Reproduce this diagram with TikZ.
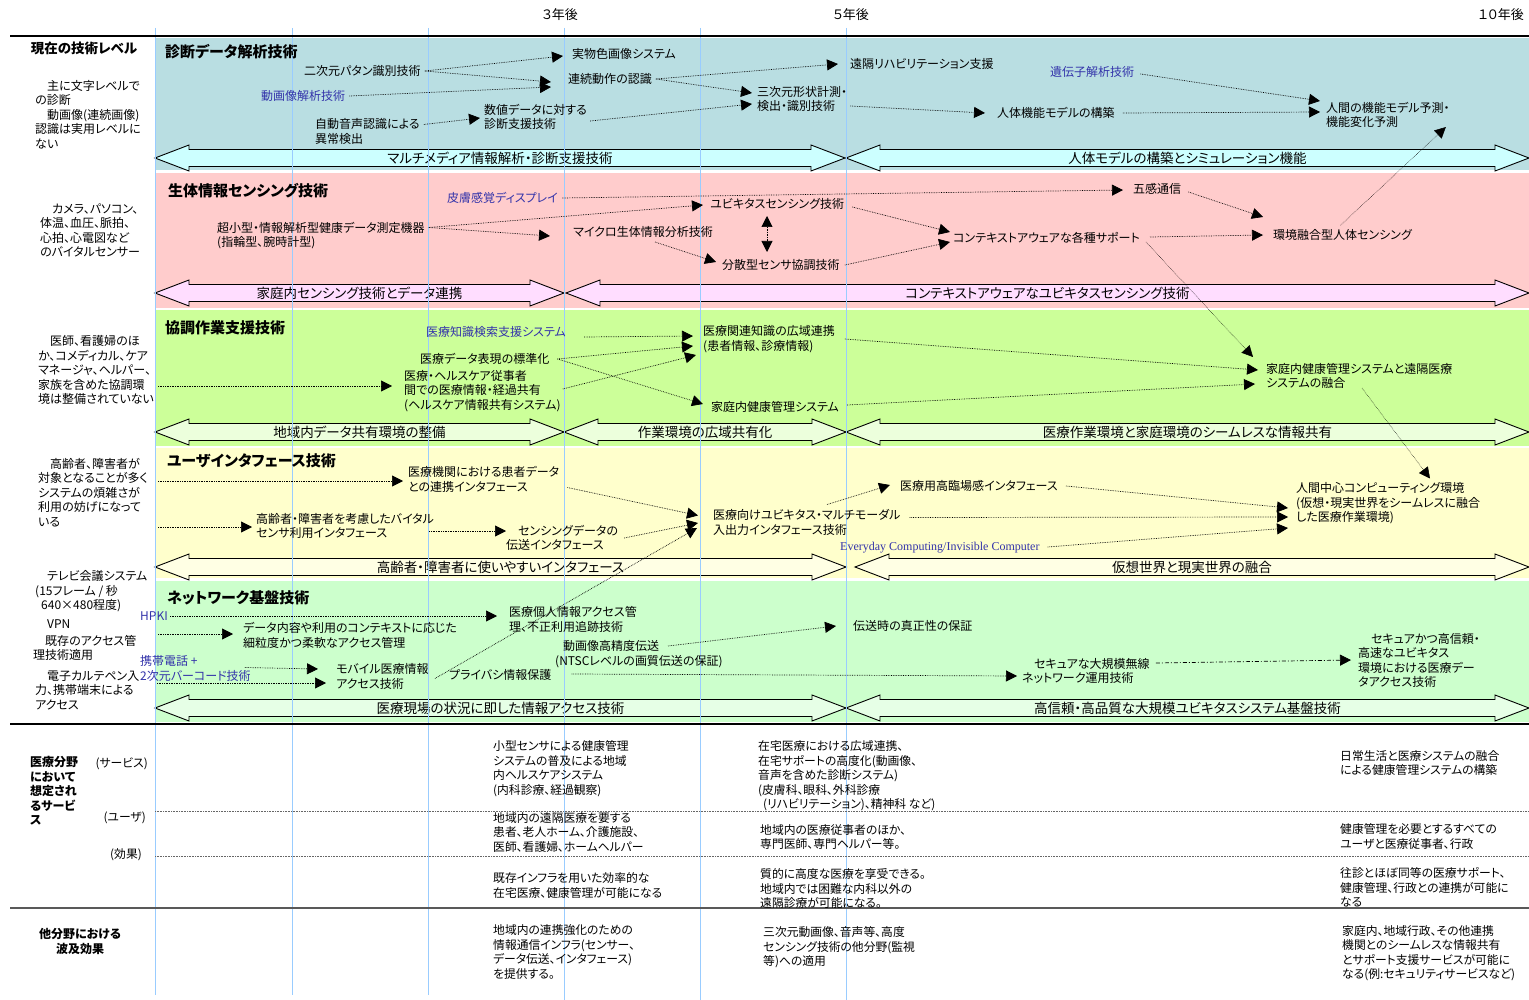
\documentclass[tikz,border=0pt]{standalone}
\usepackage{fontspec}
\setmainfont{Noto Sans CJK JP}[RawFeature=+palt]
\newfontfamily\enserif{Liberation Serif}
\usetikzlibrary{arrows.meta,calc}
\definecolor{bgA}{RGB}{185,222,226}
\definecolor{bgB}{RGB}{255,204,204}
\definecolor{bgC}{RGB}{204,255,153}
\definecolor{bgD}{RGB}{255,255,204}
\definecolor{bgE}{RGB}{204,255,204}
\definecolor{arA}{RGB}{204,255,255}
\definecolor{arB}{RGB}{255,221,255}
\definecolor{arC}{RGB}{236,255,220}
\definecolor{arD}{RGB}{255,255,228}
\definecolor{arE}{RGB}{230,255,230}
\definecolor{vl}{RGB}{153,204,255}
\definecolor{tblue}{RGB}{51,51,170}
\tikzset{
  txt/.style={font=\fontsize{12}{14.5}\selectfont, inner sep=0pt, anchor=west, align=left},
  txtb/.style={txt, text=tblue},
  ttl/.style={font=\fontsize{15}{17}\selectfont\bfseries, inner sep=0pt, anchor=west},
  lft/.style={font=\fontsize{12}{14.5}\selectfont, inner sep=0pt, anchor=west, align=left},
  btm/.style={font=\fontsize{11.8}{14.5}\selectfont, inner sep=0pt, anchor=west, align=left},
  blbl/.style={font=\fontsize{13.5}{15}\selectfont, inner sep=0pt},
  hdr/.style={font=\fontsize{13}{15}\selectfont, inner sep=0pt},
  vline/.style={draw=vl, line width=0.8pt},
  con/.style={densely dotted, line width=0.7pt, -{Triangle[length=11pt,width=11pt]}},
  confine/.style={densely dotted, line width=0.5pt, -{Triangle[length=11pt,width=11pt]}},
  con2/.style={densely dotted, line width=0.7pt, {Triangle[length=11pt,width=11pt]}-{Triangle[length=11pt,width=11pt]}},
  condd/.style={dash pattern=on 4pt off 2pt on 1pt off 2pt, line width=0.7pt, -{Triangle[length=11pt,width=11pt]}},
}
\newcommand\BandArrow[6]{%
  \filldraw[fill=#5, draw=black, line width=0.9pt] (#2,#4) -- (#2+34,#4-13) -- (#2+34,#4-8.5) -- (#3-34,#4-8.5) -- (#3-34,#4-13) -- (#3,#4) -- (#3-34,#4+13) -- (#3-34,#4+8.5) -- (#2+34,#4+8.5) -- (#2+34,#4+13) -- cycle;
  \node[blbl] (#1) at ({(#2+#3)/2},#4) {#6};}
\begin{document}
\begin{tikzpicture}[x=1pt,y=-1pt]
\useasboundingbox (0,0) rectangle (1529,1000);
\fill[white] (0,0) rectangle (1529,1000);
% bands
\fill[bgA] (155,38) rectangle (1529,170);
\fill[bgB] (155,173) rectangle (1529,308);
\fill[bgC] (155,310) rectangle (1529,446);
\fill[bgD] (155,448) rectangle (1529,578);
\fill[bgE] (155,581) rectangle (1529,722);
% big arrows
\BandArrow{ba1}{155}{845}{158}{arA}{マルチメディア情報解析・診断支援技術}
\BandArrow{ba2}{846}{1529}{158}{arA}{人体モデルの構築とシミュレーション機能}
\BandArrow{bb1}{155}{564}{293}{arB}{家庭内センシング技術とデータ連携}
\BandArrow{bb2}{566}{1529}{293}{arB}{コンテキストアウェアなユビキタスセンシング技術}
\BandArrow{bc1}{155}{564}{432}{arC}{地域内データ共有環境の整備}
\BandArrow{bc2}{564}{846}{432}{arC}{作業環境の広域共有化}
\BandArrow{bc3}{846}{1529}{432}{arC}{医療作業環境と家庭環境のシームレスな情報共有}
\BandArrow{bd1}{155}{846}{567}{arD}{高齢者・障害者に使いやすいインタフェース}
\BandArrow{bd2}{855}{1529}{567}{arD}{仮想世界と現実世界の融合}
\BandArrow{be1}{155}{846}{708}{arE}{医療現場の状況に即した情報アクセス技術}
\BandArrow{be2}{846}{1529}{708}{arE}{高信頼・高品質な大規模ユビキタスシステム基盤技術}
% vertical guide lines
\foreach \x/\yb in {155/995,292/995,428/995,564/1000,700/1000,846/1000}
  \draw[vline] (\x,28) -- (\x,\yb);
% horizontal rules
\draw[line width=1.2pt] (10,36) -- (1529,36);
\draw[line width=2pt] (10,724) -- (1529,724);
\draw[line width=2pt, draw=black!65] (10,908) -- (1529,908);
\draw[densely dotted, draw=black!60, line width=0.6pt] (155,811) -- (1529,811);
\draw[densely dotted, draw=black!60, line width=0.6pt] (155,856) -- (1529,856);
% header
\node[hdr] (h3) at (560,15) {３年後};
\node[hdr] (h5) at (851,15) {５年後};
\node[hdr] (h10) at (1501,15) {１０年後};
% left column
\node[font=\fontsize{13.5}{15}\selectfont\bfseries, inner sep=0pt] (L0) at (84,48) {現在の技術レベル};
\node[lft] (L1) at (35,114.5) {\hspace{12pt}主に文字レベルで\\の診断\\\hspace{12pt}動画像(連続画像)\\認識は実用レベルに\\ない};
\node[lft] (L2) at (40,230.5) {\hspace{12pt}カメラ、パソコン、\\体温、血圧、脈拍、\\心拍、心電図など\\のバイタルセンサー};
\node[lft] (L3) at (38,370) {\hspace{12pt}医師、看護婦のほ\\か、コメディカル、ケア\\マネージャ、ヘルパー、\\家族を含めた協調環\\境は整備されていない};
\node[lft] (L4) at (38,492.5) {\hspace{12pt}高齢者、障害者が\\対象となることが多く\\システムの煩雑さが\\利用の妨げになって\\いる};
\node[lft] (L5a) at (35,591.5) {\hspace{12pt}テレビ会議システム\\(15フレーム / 秒\\\hspace{6pt}640×480程度)};
\node[lft] (L5b) at (35,624) {\hspace{12pt}VPN};
\node[lft] (L5c) at (33,648) {\hspace{12pt}既存のアクセス管\\理技術適用};
\node[lft] (L5d) at (35,690) {\hspace{12pt}電子カルテペン入\\力、携帯端末による\\アクセス};
\coordinate (l3out) at (158,386);
\coordinate (l4a) at (158,481);
\coordinate (l4b) at (158,527);
\coordinate (l5a) at (158,634);
\coordinate (l5b) at (157,683);
% band titles
\node[ttl] (T1) at (165,52) {診断データ解析技術};
\node[ttl] (T2) at (168,191) {生体情報センシング技術};
\node[ttl] (T3) at (165,328) {協調作業支援技術};
\node[ttl] (T4) at (167,461) {ユーザインタフェース技術};
\node[ttl] (T5) at (167,598) {ネットワーク基盤技術};
% band 1 nodes
\node[txt] (A1) at (304,71) {二次元パタン識別技術};
\node[txtb] (A2) at (261,96) {動画像解析技術};
\node[txt] (A3) at (315,131.5) {自動音声認識による\\異常検出};
\node[txt] (A4) at (572,54) {実物色画像システム};
\node[txt] (A5) at (568,79) {連続動作の認識};
\node[txt] (A6) at (484,117) {数値データに対する\\診断支援技術};
\node[txt] (A7) at (757,99) {三次元形状計測・\\検出・識別技術};
\node[txt] (A8) at (850,64) {遠隔リハビリテーション支援};
\node[txtb] (A9) at (1050,72) {遺伝子解析技術};
\node[txt] (A10) at (997,113) {人体機能モデルの構築};
\node[txt] (A11) at (1326,115) {人間の機能モデル予測・\\機能変化予測};
% band 2 nodes
\node[txtb] (B1) at (447,198) {皮膚感覚ディスプレイ};
\node[txt] (B2) at (217,235.5) {超小型・情報解析型健康データ測定機器\\(指輪型、腕時計型)};
\node[txt] (B3) at (710,204) {ユビキタスセンシング技術};
\node[txt] (B4) at (573,232) {マイクロ生体情報分析技術};
\node[txt] (B5) at (722,265) {分散型センサ協調技術};
\node[txt] (B6) at (1133,189) {五感通信};
\node[txt] (B7) at (953,238) {コンテキストアウェアな各種サポート};
\node[txt] (B8) at (1273,235) {環境融合型人体センシング};
% band 3 nodes
\node[txtb] (C1) at (426,332) {医療知識検索支援システム};
\node[txt] (C2) at (420,359) {医療データ表現の標準化};
\node[txt] (C3) at (404,391) {医療・ヘルスケア従事者\\間での医療情報・経過共有\\(ヘルスケア情報共有システム)};
\node[txt] (C4) at (703,339) {医療関連知識の広域連携\\(患者情報、診療情報)};
\node[txt] (C5) at (711,407) {家庭内健康管理システム};
\node[txt] (C6) at (1266,376) {家庭内健康管理システムと遠隔医療\\システムの融合};
% band 4 nodes
\node[txt] (D1) at (408,479.5) {医療機関における患者データ\\との連携インタフェース};
\node[txt] (D2) at (256,526) {高齢者・障害者を考慮したバイタル\\センサ利用インタフェース};
\node[txt] (D3) at (506,538) {\hspace{12pt}センシングデータの\\伝送インタフェース};
\node[txt] (D4) at (713,522.5) {医療向けユビキタス・マルチモーダル\\入出力インタフェース技術};
\node[txt] (D5) at (900,486) {医療用高臨場感インタフェース};
\node[txt, text=tblue, font=\enserif\fontsize{12}{14}\selectfont] (D6) at (840,548) {Everyday Computing/Invisible Computer};
\node[txt] (D7) at (1296,503.5) {人間中心コンピューティング環境\\(仮想・現実世界をシームレスに融合\\した医療作業環境)};
% band 5 nodes
\node[txtb] (E1) at (140,616) {HPKI};
\node[txt] (E2) at (509,619.5) {医療個人情報アクセス管\\理、不正利用追跡技術};
\node[txt] (E3) at (243,635.5) {データ内容や利用のコンテキストに応じた\\細粒度かつ柔軟なアクセス管理};
\node[txtb] (E4) at (140,668.5) {携帯電話 +\\2次元バーコード技術};
\node[txt] (E5) at (336,676.5) {モバイル医療情報\\アクセス技術};
\node[txt] (E6) at (555,654) {\hspace{8pt}動画像高精度伝送\\(NTSCレベルの画質伝送の保証)};
\node[txt] (E7) at (853,626) {伝送時の真正性の保証};
\node[txt] (E8) at (449,675) {プライバシ情報保護};
\node[txt] (E9) at (1022,671) {\hspace{12pt}セキュアな大規模無線\\ネットワーク運用技術};
\node[txt] (E10) at (1358,660.5) {\hspace{13pt}セキュアかつ高信頼・\\高速なユビキタス\\環境における医療デー\\タアクセス技術};
% band 1 edges
\draw[con] ([shift={(4,0)}]A1.east) -- ([shift={(-9,2)}]A4.west);
\draw[con] ([shift={(4,0)}]A1.east) -- ([shift={(-17,3)}]A5.west);
\draw[con] ([shift={(4,0)}]A2.east) -- ([shift={(-17,8)}]A5.west);
\draw[con] ([shift={(4,-7)}]A3.east) -- ([shift={(-4,1)}]A6.west);
\draw[con] ([shift={(4,0)}]A5.east) -- ([shift={(-12,0)}]A8.west);
\draw[con] ([shift={(4,0)}]A5.east) -- ([shift={(-5,-6)}]A7.west);
\draw[con] ([shift={(3,4)}]A6.east) -- ([shift={(-5,5)}]A7.west);
\draw[con] ([shift={(3,7)}]A7.east) -- ([shift={(-12,0)}]A10.west);
\draw[con] ([shift={(6,2)}]A9.east) -- ([shift={(-6,-14)}]A11.west);
\draw[con] ([shift={(8,0)}]A10.east) -- ([shift={(-6,-3)}]A11.west);
\draw[confine] ([shift={(-2,-4)}]B8.north) -- ([shift={(-4,-1)}]A11.south east);
% band 2 edges
\draw[con] ([shift={(4,0)}]B1.east) -- ([shift={(-10,1)}]B6.west);
\draw[con] ([shift={(4,-8)}]B2.east) -- ([shift={(-7,1)}]B3.west);
\draw[con] ([shift={(4,-8)}]B2.east) -- ([shift={(-23,4)}]B4.west);
\draw[con] ([shift={(82,10)}]B4.west) -- ([shift={(-6,-3)}]B5.west);
\draw[con2] ([shift={(57,12)}]B3.west) -- ([shift={(45,-13)}]B5.west);
\draw[con] ([shift={(8,3)}]B3.east) -- ([shift={(-3,-6)}]B7.west);
\draw[con] ([shift={(5,0)}]B5.east) -- ([shift={(-3,4)}]B7.west);
\draw[con] ([shift={(7,3)}]B6.east) -- ([shift={(-10,-18)}]B8.west);
\draw[con] ([shift={(10,-1)}]B7.east) -- ([shift={(-10,0)}]B8.west);
\draw[confine] ([shift={(6,4)}]B7.east) -- ([shift={(-13,-19)}]C6.west);
% band 3 edges
\draw[con] (l3out) -- ([shift={(-12,-5)}]C3.west);
\draw[con] ([shift={(18,5)}]C1.east) -- ([shift={(-10,-3)}]C4.west);
\draw[con] ([shift={(8,0)}]C2.east) -- ([shift={(-10,7)}]C4.west);
\draw[con] ([shift={(2,-2)}]C3.east) -- ([shift={(-7,16)}]C4.west);
\draw[con] ([shift={(8,0)}]C2.east) -- ([shift={(-8,-3)}]C5.west);
\draw[con] ([shift={(10,0)}]C4.east) -- ([shift={(-8,-6)}]C6.west);
\draw[con] ([shift={(8,-2)}]C5.east) -- ([shift={(-11,8)}]C6.west);
\draw[confine] ([shift={(96,12)}]C6.west) -- ([shift={(134,-25)}]D7.west);
% band 4 edges
\draw[con] (l4a) -- ([shift={(-5,1.5)}]D1.west);
\draw[con] (l4b) -- ([shift={(-4,1)}]D2.west);
\draw[con] ([shift={(-5,5)}]D2.east) -- ([shift={(0,-7)}]D3.west);
\draw[con] ([shift={(8,8)}]D1.east) -- ([shift={(-15,-7)}]D4.west);
\draw[con] ([shift={(6,0)}]D3.east) -- ([shift={(-15,0.5)}]D4.west);
\draw[con] ([shift={(6,2)}]E5.east) -- ([shift={(-16,5.5)}]D4.west);
\draw[con] ([shift={(114,-18)}]D4.west) -- ([shift={(-10,-1)}]D5.west);
\draw[con] ([shift={(8,0)}]D5.east) -- ([shift={(-8,4.5)}]D7.west);
\draw[con] ([shift={(9,-5)}]D4.east) -- ([shift={(-8,13.5)}]D7.west);
\draw[con] ([shift={(8,-1)}]D6.east) -- ([shift={(-8,24.5)}]D7.west);
% band 5 edges
\draw[con] ([shift={(2,0)}]E1.east) -- ([shift={(-12,-3.5)}]E2.west);
\draw[con] (l5a) -- ([shift={(-10,-1.5)}]E3.west);
\draw[con] ([shift={(-6,-1)}]E4.east) -- ([shift={(-18,-7.5)}]E5.west);
\draw[con] (l5b) -- ([shift={(-10,6.5)}]E5.west);
\draw[con] ([shift={(113,-8)}]E6.west) -- ([shift={(-17,0)}]E7.west);
\draw[con] ([shift={(20,-1)}]E8.east) -- ([shift={(-5,5)}]E9.west);
\draw[condd] ([shift={(6,-8)}]E9.east) -- ([shift={(-7,-0.5)}]E10.west);
% bottom section
\node[font=\fontsize{12}{14.5}\selectfont\bfseries, inner sep=0pt, anchor=west, align=left] (M0) at (30,791) {医療分野\\において\\想定され\\るサービ\\ス};
\node[btm, anchor=east] (M1) at (148,764) {(サービス)};
\node[btm, anchor=east] (M2) at (146,818) {(ユーザ)};
\node[btm, anchor=east] (M3) at (142,855) {(効果)};
\node[font=\fontsize{12}{14.5}\selectfont\bfseries, inner sep=0pt, align=center] (N0) at (80,941.5) {他分野における\\波及効果};
\node[btm] (P1) at (493,768.5) {小型センサによる健康管理\\システムの普及による地域\\内ヘルスケアシステム\\(内科診療、経過観察)};
\node[btm] (P2) at (493,832.5) {地域内の遠隔医療を要する\\患者、老人ホーム、介護施設、\\医師、看護婦、ホームヘルパー};
\node[btm] (P3) at (493,885.5) {既存インフラを用いた効率的な\\在宅医療、健康管理が可能になる};
\node[btm] (P4) at (493,952) {地域内の連携強化のための\\情報通信インフラ(センサー、\\データ伝送、インタフェース)\\を提供する。};
\node[btm] (Q1) at (758,776) {在宅医療における広域連携、\\在宅サポートの高度化(動画像、\\音声を含めた診断システム)\\(皮膚科、眼科、外科診療\\\hspace{5pt}(リハビリテーション)、精神科 など)};
\node[btm] (Q2) at (760,837) {地域内の医療従事者のほか、\\専門医師、専門ヘルパー等。};
\node[btm] (Q3) at (760,888.5) {質的に高度な医療を享受できる。\\地域内では困難な内科以外の\\遠隔診療が可能になる。};
\node[btm] (Q4) at (763,947.5) {三次元動画像、音声等、高度\\センシング技術の他分野(監視\\等)への適用};
\node[btm] (R1) at (1340,763) {日常生活と医療システムの融合\\による健康管理システムの構築};
\node[btm] (R2) at (1340,836.5) {健康管理を必要とするすべての\\ユーザと医療従事者、行政};
\node[btm] (R3) at (1340,887.5) {往診とほぼ同等の医療サポート、\\健康管理、行政との連携が可能に\\なる};
\node[btm] (R4) at (1342,953) {家庭内、地域行政、その他連携\\機関とのシームレスな情報共有\\とサポート支援サービスが可能に\\なる(例:セキュリティサービスなど)};
\end{tikzpicture}
\end{document}
